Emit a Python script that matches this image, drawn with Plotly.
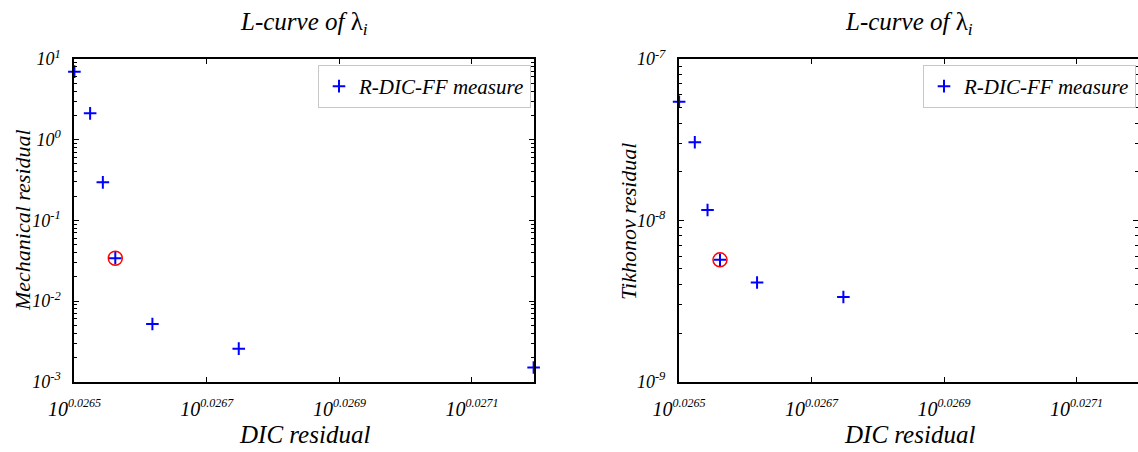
import plotly.graph_objects as go

# ---- data ----
dic_residual = [1.062919, 1.062977, 1.063024, 1.063070, 1.063207, 1.063526, 1.064616]
mechanical_residual = [6.97, 2.12, 0.296, 0.0339, 0.0052, 0.00257, 0.0015]
tikhonov_residual = [5.43e-8, 3.05e-8, 1.16e-8, 5.69e-9, 4.12e-9, 3.35e-9, 2.46e-9]
selected_index = 3

x_tick_exps = ["0.0265", "0.0267", "0.0269", "0.0271"]
x_tick_vals = [1.062919, 1.063408, 1.063898, 1.064388]
y1_tick_exps = [1, 0, -1, -2, -3]
y2_tick_exps = [-7, -8, -9]

series_name = "R-DIC-FF measure"
title_text = "<i>L-curve of </i>λ<sub><i>i</i></sub>"

FONT = "Liberation Serif"
W, H = 1138, 452


def minor_vals(exps):
    lo, hi = min(exps), max(exps)
    vals = []
    for e in range(lo, hi):
        for m in range(2, 10):
            vals.append(m * 10.0 ** e)
    return vals


def ylabels(exps):
    return ["<i>10</i><sup><i>%d</i></sup>" % e for e in exps]


xlabels = ["<i>10</i><sup><i><span style='font-size:12px'>%s</span></i></sup>" % s for s in x_tick_exps]

fig = go.Figure()

for k, (yvals, xa, ya, lg) in enumerate([
        (mechanical_residual, "x", "y", "legend"),
        (tikhonov_residual, "x2", "y2", "legend2")]):
    fig.add_trace(go.Scatter(
        x=dic_residual, y=yvals, mode="markers", name=series_name,
        xaxis=xa, yaxis=ya, legend=lg, cliponaxis=False,
        marker=dict(symbol="cross-thin", size=9, color="#0000ff",
                    line=dict(color="#0000ff", width=2))))
    fig.add_trace(go.Scatter(
        x=[dic_residual[selected_index]], y=[yvals[selected_index]],
        mode="markers", showlegend=False, xaxis=xa, yaxis=ya, cliponaxis=False,
        marker=dict(symbol="circle-open", size=14, color="#ff0000",
                    line=dict(color="#ff0000", width=1.5))))

x_left = [74.3 / W, 534.3 / W]
x_right = [679 / W, 1138 / W]
y_dom = [(H - 381.7) / H, (H - 59) / H]

xcommon = dict(type="log", tickmode="array", tickvals=x_tick_vals, ticktext=xlabels,
               ticks="inside", ticklen=5, tickwidth=1, tickcolor="black",
               showline=True, linecolor="black", linewidth=2, mirror="allticks",
               showgrid=False, zeroline=False, automargin=False,
               tickfont=dict(family=FONT, size=20, color="black"), ticklabelstandoff=8)

ycommon = dict(type="log", tickmode="array",
               ticks="inside", ticklen=5, tickwidth=1, tickcolor="black",
               showline=True, linecolor="black", linewidth=2, mirror="allticks",
               showgrid=False, zeroline=False, automargin=False,
               tickfont=dict(family=FONT, size=18, color="black"), ticklabelstandoff=8)

legend_style = dict(bgcolor="white", bordercolor="#c8c8c8", borderwidth=1,
                    y=1 - 65 / H, yanchor="top",
                    font=dict(family=FONT, size=21, color="black", style="italic"))

fig.update_layout(
    template="none",
    width=W, height=H, margin=dict(l=0, r=0, t=0, b=0, autoexpand=False),
    paper_bgcolor="white", plot_bgcolor="white",
    xaxis=dict(domain=x_left, anchor="y", range=[0.0265, 0.027194], **xcommon),
    xaxis2=dict(domain=x_right, anchor="y2", range=[0.0265, 0.0271928], **xcommon),
    yaxis=dict(domain=y_dom, anchor="x", range=[-3, 1],
               tickvals=[10.0 ** e for e in y1_tick_exps], ticktext=ylabels(y1_tick_exps),
               minor=dict(tickmode="array", tickvals=minor_vals(y1_tick_exps), ticks="inside",
                          ticklen=3, tickcolor="black", showgrid=False),
               **ycommon),
    yaxis2=dict(domain=y_dom, anchor="x2", range=[-9, -7],
                tickvals=[10.0 ** e for e in y2_tick_exps], ticktext=ylabels(y2_tick_exps),
                minor=dict(tickmode="array", tickvals=minor_vals(y2_tick_exps), ticks="inside",
                           ticklen=3, tickcolor="black", showgrid=False),
                **ycommon),
    legend=dict(x=531 / W, xanchor="right", **legend_style),
    legend2=dict(x=1136 / W, xanchor="right", **legend_style),
    showlegend=True,
)

title_font = dict(family=FONT, size=25, color="black")
xlab_font = dict(family=FONT, size=25, color="black")
ylab_font = dict(family=FONT, size=22, color="black")
for cx in [(74.3 + 534.3) / 2 / W, (679 + 1139) / 2 / W]:
    fig.add_annotation(text=title_text, x=cx, y=1 - 24 / H, xref="paper", yref="paper",
                       showarrow=False, font=title_font, xanchor="center", yanchor="middle")
    fig.add_annotation(text="<i>DIC residual</i>", x=cx, y=1 - 434 / H, xref="paper", yref="paper",
                       showarrow=False, font=xlab_font, xanchor="center", yanchor="middle")

fig.add_annotation(text="<i>Mechanical residual</i>", x=22 / W, y=1 - 220 / H, xref="paper", yref="paper",
                   showarrow=False, font=ylab_font, textangle=-90, xanchor="center", yanchor="middle")
fig.add_annotation(text="<i>Tikhonov residual</i>", x=628 / W, y=1 - 222 / H, xref="paper", yref="paper",
                   showarrow=False, font=ylab_font, textangle=-90, xanchor="center", yanchor="middle")

fig.write_html("out.html",
               config={"displayModeBar": False},
               post_script="document.body.style.margin='0';document.body.style.padding='0';"
                           "document.documentElement.style.overflow='hidden';")
